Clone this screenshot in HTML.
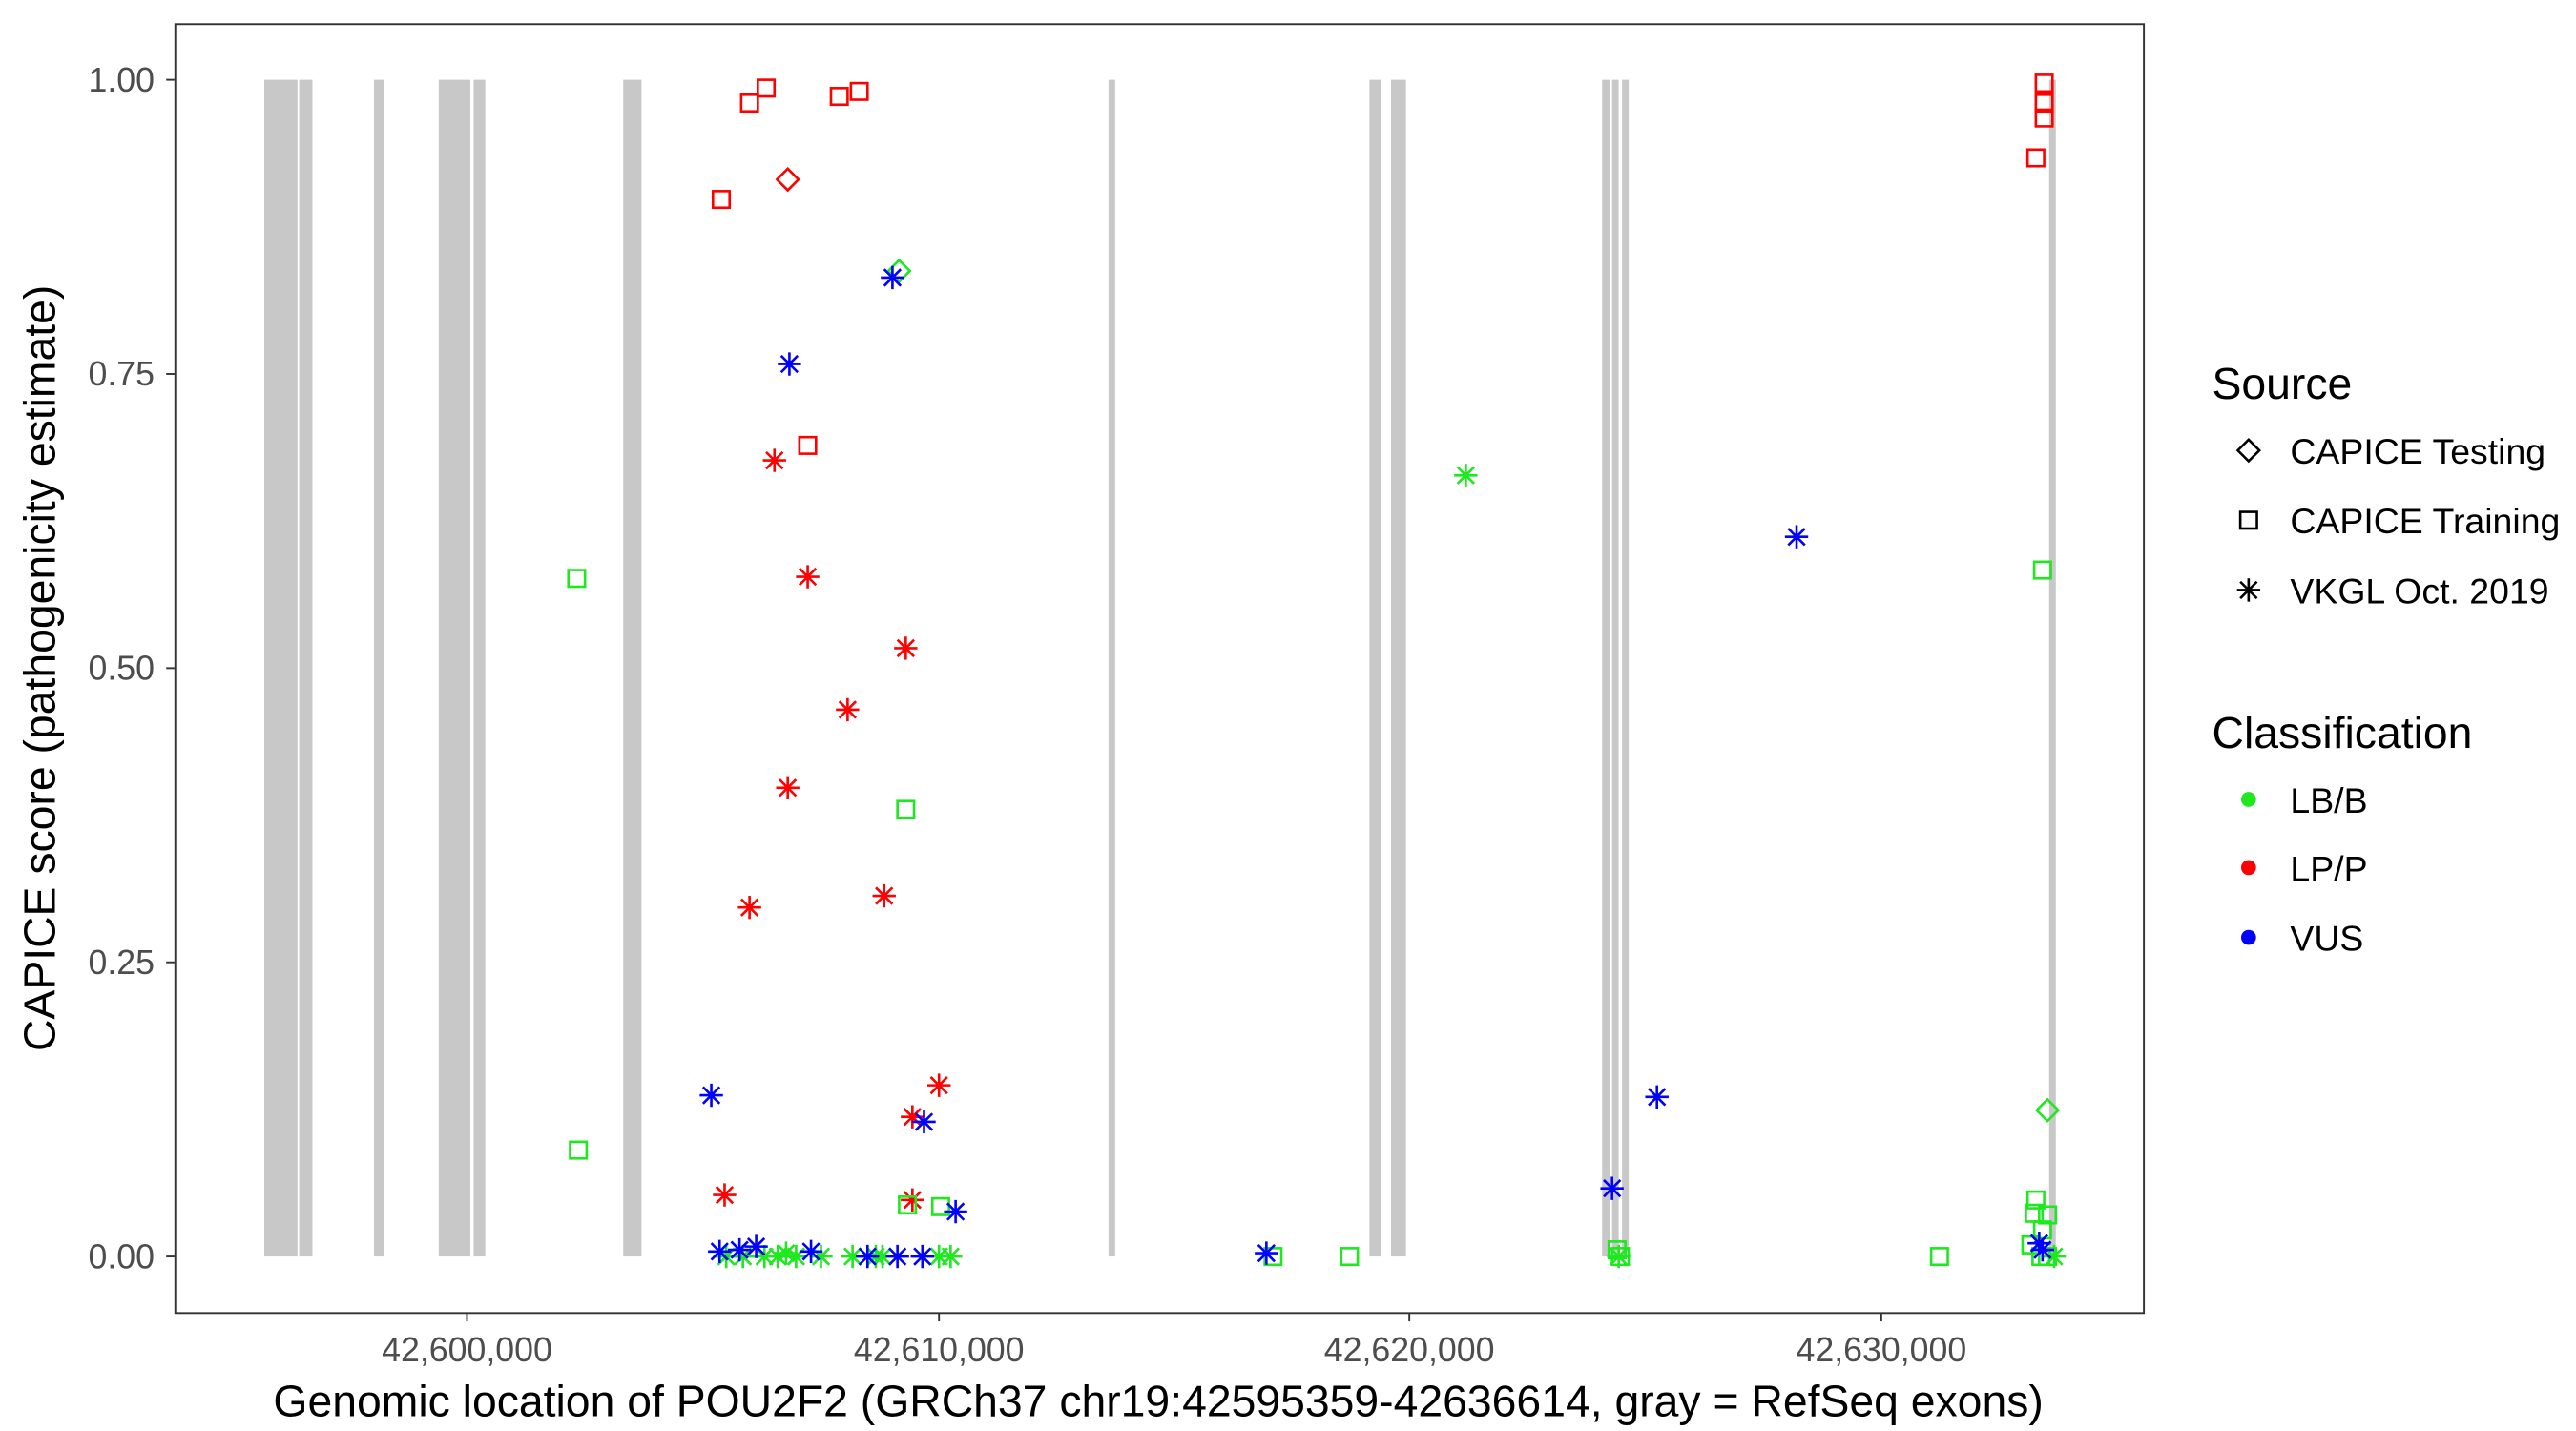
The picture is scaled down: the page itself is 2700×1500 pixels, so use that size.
<!DOCTYPE html>
<html><head><meta charset="utf-8"><style>html,body{margin:0;padding:0;background:#fff}svg{display:block}</style></head>
<body>
<svg width="2700" height="1500" viewBox="0 0 1550 861" preserveAspectRatio="none" xmlns="http://www.w3.org/2000/svg" font-family="Liberation Sans, Arial, sans-serif">
<defs>
<g id="sq"><rect x="-5" y="-5" width="10" height="10" fill="none" stroke-width="1.5"/></g>
<g id="di"><path d="M0,-6.5 L6.5,0 L0,6.5 L-6.5,0 Z" fill="none" stroke-width="1.5"/></g>
<g id="st"><path d="M0,-7 V7 M-7,0 H7 M-5,-5 L5,5 M-5,5 L5,-5" fill="none" stroke-width="1.5"/></g>
</defs>
<rect width="1550" height="861" fill="#fff"/>
<g fill="#c8c8c8">
<rect x="159" y="48" width="20" height="708"/><rect x="180" y="48" width="8" height="708"/>
<rect x="225" y="48" width="6" height="708"/><rect x="264" y="48" width="19" height="708"/>
<rect x="285" y="48" width="7" height="708"/><rect x="375" y="48" width="11" height="708"/>
<rect x="667" y="48" width="4" height="708"/><rect x="824" y="48" width="7" height="708"/>
<rect x="837" y="48" width="9" height="708"/><rect x="964" y="48" width="5" height="708"/>
<rect x="970" y="48" width="4" height="708"/><rect x="976" y="48" width="4" height="708"/>
<rect x="1233" y="48" width="4" height="708"/>
</g>
<g stroke="#ff0000">
<use href="#sq" x="451" y="62"/><use href="#sq" x="461" y="53"/><use href="#sq" x="505" y="58"/><use href="#sq" x="517" y="55"/>
<use href="#sq" x="434" y="120"/><use href="#sq" x="486" y="268"/><use href="#sq" x="1230" y="50"/><use href="#sq" x="1230" y="62"/>
<use href="#sq" x="1230" y="71"/><use href="#sq" x="1225" y="95"/>
<use href="#di" x="474" y="108"/>
<use href="#st" x="466" y="277"/><use href="#st" x="486" y="347"/><use href="#st" x="545" y="390"/><use href="#st" x="510" y="427"/>
<use href="#st" x="474" y="474"/><use href="#st" x="451" y="546"/><use href="#st" x="532" y="539"/><use href="#st" x="565" y="653"/>
<use href="#st" x="549" y="672"/><use href="#st" x="436" y="719"/><use href="#st" x="549" y="722"/>
</g>
<g stroke="#1ee81e">
<use href="#di" x="541" y="163"/><use href="#di" x="1232" y="668"/>
<use href="#st" x="882" y="286"/>
<use href="#st" x="437" y="756"/><use href="#st" x="447" y="756"/><use href="#st" x="460" y="756"/><use href="#st" x="468" y="756"/>
<use href="#st" x="473" y="754"/><use href="#st" x="479" y="756"/><use href="#st" x="494" y="756"/><use href="#st" x="513" y="756"/>
<use href="#st" x="527" y="756"/><use href="#st" x="531" y="756"/><use href="#st" x="565" y="756"/><use href="#st" x="572" y="756"/>
<use href="#st" x="1236" y="756"/><use href="#st" x="974" y="756"/>
<use href="#sq" x="347" y="348"/><use href="#sq" x="545" y="487"/><use href="#sq" x="348" y="692"/><use href="#sq" x="546" y="725"/>
<use href="#sq" x="566" y="726"/><use href="#sq" x="766" y="756"/><use href="#sq" x="812" y="756"/><use href="#sq" x="973" y="752"/>
<use href="#sq" x="975" y="756"/><use href="#sq" x="1167" y="756"/><use href="#sq" x="1229" y="343"/><use href="#sq" x="1225" y="722"/>
<use href="#sq" x="1224" y="730"/><use href="#sq" x="1232" y="731"/><use href="#sq" x="1229" y="740"/><use href="#sq" x="1222" y="749"/>
<use href="#sq" x="1228" y="756"/><use href="#sq" x="1232" y="756"/>
</g>
<g stroke="#0000ff">
<use href="#st" x="537" y="167"/><use href="#st" x="475" y="219"/><use href="#st" x="1081" y="323"/><use href="#st" x="428" y="659"/>
<use href="#st" x="556" y="675"/><use href="#st" x="575" y="729"/><use href="#st" x="970" y="715"/><use href="#st" x="997" y="660"/>
<use href="#st" x="762" y="754"/><use href="#st" x="1227" y="748"/><use href="#st" x="433" y="753"/><use href="#st" x="445" y="752"/>
<use href="#st" x="455" y="750"/><use href="#st" x="488" y="753"/><use href="#st" x="522" y="756"/><use href="#st" x="540" y="756"/>
<use href="#st" x="555" y="756"/><use href="#st" x="1229" y="752"/>
</g>
<rect x="105.5" y="14.5" width="1184.5" height="775.5" fill="none" stroke="#333" stroke-width="1.1"/>
<g stroke="#333" stroke-width="1.1">
<line x1="100" y1="48" x2="105" y2="48"/><line x1="100" y1="225" x2="105" y2="225"/><line x1="100" y1="402" x2="105" y2="402"/>
<line x1="100" y1="579" x2="105" y2="579"/><line x1="100" y1="756" x2="105" y2="756"/>
<line x1="281" y1="790" x2="281" y2="795"/><line x1="565" y1="790" x2="565" y2="795"/><line x1="848" y1="790" x2="848" y2="795"/><line x1="1132" y1="790" x2="1132" y2="795"/>
</g>
<g font-size="20.5" fill="#4d4d4d" text-anchor="end">
<text x="93" y="55">1.00</text><text x="93" y="232">0.75</text><text x="93" y="409">0.50</text><text x="93" y="586">0.25</text><text x="93" y="763">0.00</text>
</g>
<g font-size="20.5" fill="#4d4d4d" text-anchor="middle">
<text x="281" y="819">42,600,000</text><text x="565" y="819">42,610,000</text><text x="848" y="819">42,620,000</text><text x="1132" y="819">42,630,000</text>
</g>
<text x="697" y="852" font-size="26.6" text-anchor="middle">Genomic location of POU2F2 (GRCh37 chr19:42595359-42636614, gray = RefSeq exons)</text>
<text transform="translate(33,402) rotate(-90)" font-size="26.6" text-anchor="middle">CAPICE score (pathogenicity estimate)</text>
<text x="1331" y="240" font-size="26.6">Source</text>
<g stroke="#000"><use href="#di" x="1353" y="271"/><use href="#sq" x="1353" y="313"/><use href="#st" x="1353" y="355"/></g>
<g font-size="21.5"><text x="1378" y="279">CAPICE Testing</text><text x="1378" y="321">CAPICE Training</text><text x="1378" y="363">VKGL Oct. 2019</text></g>
<text x="1331" y="450" font-size="26.6">Classification</text>
<circle cx="1353" cy="481" r="4.5" fill="#1ee81e"/><circle cx="1353" cy="522" r="4.5" fill="#ff0000"/><circle cx="1353" cy="564" r="4.5" fill="#0000ff"/>
<g font-size="21.5"><text x="1378" y="489">LB/B</text><text x="1378" y="530">LP/P</text><text x="1378" y="572">VUS</text></g>
</svg>
</body></html>
